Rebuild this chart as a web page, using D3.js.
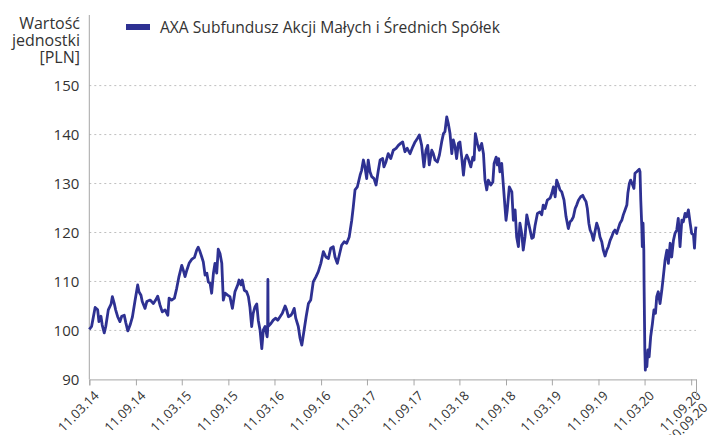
<!DOCTYPE html>
<html>
  <head>
    <meta charset="utf-8">
    <title>AXA Subfundusz Akcji Małych i Średnich Spółek</title>
    <script src="https://d3js.org/d3.v7.min.js"></script>
    <style>
      body { margin: 0; background: #fff; }
      svg { font-family: "Open Sans", "Noto Sans", sans-serif; fill: #333; }
      .gridLine { stroke: #bfbfbf; stroke-width: 1; stroke-dasharray: 2 3; }
      .axisLine { stroke: #a6a6a6; stroke-width: 1; }
    </style>
  </head>
  <body>
    <svg id="chart" width="710" height="435"></svg>
    <script>
      // data: days after 11.03.2014 and unit value (PLN)
      startDate = "2014-03-11";
      endDate = "2020-09-30";
      dayOffsets = [
        0, 9, 23, 33, 38, 46, 51, 59, 65, 75, 86, 91, 99, 104, 112, 121, 128, 138, 144, 152,
        161, 170, 180, 191, 196, 204, 209, 220, 227, 240, 253, 262, 270, 279, 288, 299, 310, 315, 325, 336,
        345, 354, 365, 371, 378, 385, 394, 404, 415, 424, 430, 437, 444, 450, 457, 464, 470, 477, 483, 490,
        496, 503, 509, 516, 523, 529, 536, 546, 555, 565, 575, 586, 591, 599, 604, 612, 621, 628, 634, 641,
        647, 654, 661, 667, 674, 681, 687, 694, 702, 704, 705, 706, 717, 726, 736, 744, 753, 762, 773, 779,
        786, 796, 801, 809, 815, 825, 832, 839, 848, 856, 865, 874, 884, 895, 904, 914, 924, 934, 944, 953,
        963, 970, 979, 987, 996, 1006, 1016, 1026, 1036, 1042, 1049, 1058, 1069, 1075, 1082, 1088, 1095, 1101, 1108, 1115,
        1124, 1132, 1141, 1148, 1158, 1163, 1171, 1180, 1190, 1200, 1211, 1220, 1229, 1237, 1246, 1255, 1266, 1277, 1286, 1295,
        1303, 1312, 1321, 1329, 1336, 1342, 1352, 1358, 1365, 1374, 1382, 1391, 1398, 1404, 1411, 1417, 1424, 1431, 1437, 1444,
        1450, 1457, 1463, 1470, 1477, 1483, 1490, 1496, 1506, 1514, 1519, 1524, 1532, 1540, 1549, 1556, 1562, 1569, 1575, 1585,
        1593, 1598, 1606, 1611, 1616, 1621, 1628, 1634, 1641, 1645, 1650, 1658, 1668, 1674, 1681, 1687, 1694, 1700, 1707, 1713,
        1720, 1727, 1733, 1740, 1747, 1753, 1760, 1769, 1779, 1786, 1792, 1799, 1808, 1819, 1826, 1832, 1839, 1845, 1852, 1858,
        1865, 1874, 1882, 1891, 1898, 1904, 1911, 1918, 1924, 1931, 1940, 1948, 1953, 1961, 1966, 1972, 1977, 1983, 1990, 1996,
        2003, 2010, 2016, 2023, 2029, 2036, 2043, 2049, 2056, 2062, 2069, 2075, 2082, 2088, 2095, 2102, 2108, 2115, 2122, 2126,
        2132, 2137, 2145, 2150, 2154, 2161, 2167, 2171, 2174, 2177, 2181, 2183, 2186, 2189, 2190, 2193, 2195, 2198, 2201, 2205,
        2210, 2216, 2223, 2229, 2235, 2240, 2246, 2253, 2260, 2266, 2273, 2280, 2286, 2293, 2299, 2306, 2312, 2319, 2325, 2332,
        2339, 2345, 2352, 2358, 2365, 2372, 2378, 2385, 2389, 2393, 2395
      ];
      unitValues = [
        100.2, 100.8, 104.7, 104.2, 101.8, 102.9, 101.1, 99.5, 100.8, 104.2, 105.4, 106.9, 105.4, 104.2, 102.8, 101.8, 102.9, 103.1, 101.6, 99.9,
        101.1, 102.7, 105.9, 109.3, 107.9, 107.2, 105.9, 104.5, 105.9, 106.2, 105.5, 106.2, 107.0, 105.2, 103.8, 104.2, 103.1, 106.6, 106.2, 106.6,
        108.6, 111.0, 113.3, 112.3, 111.0, 112.3, 113.7, 114.5, 114.9, 116.4, 117.0, 116.1, 115.0, 114.0, 111.3, 111.7, 109.9, 109.6, 107.6, 111.7,
        113.7, 111.7, 116.6, 115.7, 113.7, 106.2, 107.6, 107.2, 106.9, 104.5, 107.9, 109.3, 110.3, 109.3, 110.3, 108.2, 107.9, 106.9, 104.8, 100.8,
        103.5, 104.8, 105.4, 102.1, 100.1, 96.3, 100.1, 100.8, 98.7, 100.0, 110.4, 100.8, 101.4, 102.1, 102.5, 102.1, 102.8, 103.5, 105.0, 104.2,
        102.8, 103.1, 103.5, 104.5, 102.5, 100.8, 98.4, 97.0, 100.1, 102.8, 105.5, 106.2, 109.9, 111.0, 112.0, 113.7, 116.1, 115.0, 114.7, 116.8,
        117.1, 115.0, 113.7, 115.4, 117.4, 118.1, 117.8, 119.1, 122.5, 125.2, 128.7, 129.3, 131.7, 132.7, 134.8, 133.4, 131.0, 134.8, 132.4, 131.4,
        131.0, 129.7, 132.7, 134.8, 135.1, 133.4, 134.4, 136.1, 135.1, 136.8, 137.2, 137.8, 138.2, 138.5, 136.5, 137.2, 136.1, 137.5, 138.5, 139.2,
        139.9, 137.8, 133.4, 136.8, 137.8, 133.8, 136.8, 136.1, 134.8, 134.4, 135.8, 138.5, 140.2, 140.6, 143.6, 142.3, 140.2, 136.1, 138.9, 137.5,
        135.1, 138.2, 138.5, 135.4, 131.7, 134.8, 135.8, 135.1, 133.4, 135.4, 134.8, 140.2, 138.2, 136.8, 138.2, 136.1, 130.7, 128.7, 130.7, 129.7,
        130.3, 134.1, 135.4, 133.8, 135.1, 132.4, 134.1, 130.0, 125.2, 122.5, 124.6, 129.3, 128.3, 122.5, 124.6, 119.1, 117.1, 121.9, 119.8, 116.4,
        119.1, 123.6, 122.2, 120.5, 118.8, 119.0, 121.5, 123.9, 124.2, 123.6, 125.6, 124.9, 126.6, 127.0, 128.0, 129.3, 127.3, 130.7, 129.7, 128.7,
        128.3, 126.6, 123.2, 120.8, 122.2, 122.5, 123.2, 124.9, 125.6, 126.6, 127.3, 127.6, 127.0, 126.3, 124.9, 121.9, 120.5, 119.8, 118.4, 120.1,
        121.9, 120.8, 119.1, 118.1, 116.4, 115.2, 116.4, 117.1, 118.4, 119.1, 120.1, 120.5, 119.8, 120.8, 121.9, 122.5, 123.6, 124.6, 125.6, 128.0,
        130.0, 130.7, 129.7, 129.0, 132.1, 132.4, 132.7, 132.9, 132.4, 126.6, 121.2, 117.1, 121.9, 116.4, 109.6, 96.0, 91.9, 94.6, 92.6, 96.0,
        94.6, 98.7, 101.4, 104.2, 103.5, 106.9, 107.9, 105.5, 108.2, 111.0, 114.4, 116.4, 113.7, 117.8, 115.0, 118.4, 119.8, 120.5, 122.9, 117.1,
        122.5, 122.2, 123.9, 123.2, 124.6, 121.9, 119.8, 119.5, 116.8, 120.5, 121.2
      ];
      tickDates = [
        "2014-03-11", "2014-09-11", "2015-03-11", "2015-09-11", "2016-03-11", "2016-09-11", "2017-03-11",
        "2017-09-11", "2018-03-11", "2018-09-11", "2019-03-11", "2019-09-11", "2020-03-11", "2020-09-11", "2020-09-30"
      ];
      yTicks = [90, 100, 110, 120, 130, 140, 150];
      seriesName = "AXA Subfundusz Akcji Małych i Średnich Spółek";
      yTitle = ["Wartość", "jednostki", "[PLN]"];

      parseDate = d3.timeParse("%Y-%m-%d");
      start = parseDate(startDate);
      series = dayOffsets.map(function(d, i) {
        return { date: d3.timeDay.offset(start, d), value: unitValues[i] };
      });

      margin = { top: 15, left: 89.3, right: 14, bottom: 55.6 };
      width = 710;
      height = 435;
      svg = d3.select("#chart");

      x = d3.scaleTime()
        .domain([start, parseDate(endDate)])
        .range([margin.left, width - margin.right]);
      y = d3.scaleLinear()
        .domain([90, 150])
        .range([height - margin.bottom, 85.6]);

      // gridlines
      svg.append("g")
        .selectAll("line")
        .data(yTicks.slice(1))
        .join("line")
          .attr("class", "gridLine")
          .attr("x1", margin.left)
          .attr("x2", width - margin.right)
          .attr("y1", function(d) { return y(d); })
          .attr("y2", function(d) { return y(d); });

      // y axis
      svg.append("line")
        .attr("class", "axisLine")
        .attr("x1", margin.left).attr("x2", margin.left)
        .attr("y1", margin.top).attr("y2", y(90));
      yAxis = svg.append("g")
        .attr("transform", "translate(" + margin.left + ",0)")
        .call(d3.axisLeft(y).tickValues(yTicks).tickSize(0).tickPadding(10));
      yAxis.select(".domain").remove();
      yAxis.selectAll("text")
        .attr("font-size", 15)
        .attr("font-family", "'Open Sans', sans-serif")
        .attr("fill", "#333");

      // y title, one line per tspan
      yTitleText = svg.append("text")
        .attr("text-anchor", "end")
        .attr("font-size", 16)
        .attr("fill", "#333");
      yTitleText.selectAll("tspan")
        .data(yTitle)
        .join("tspan")
          .attr("x", 80)
          .attr("y", function(d, i) { return 29 + i * 17.2; })
          .text(function(d) { return d; });

      // x axis
      lastTick = tickDates[tickDates.length - 1];
      xAxis = svg.append("g")
        .attr("transform", "translate(0," + y(90) + ")")
        .call(d3.axisBottom(x)
          .tickValues(tickDates.map(parseDate))
          .tickSizeOuter(0)
          .tickSize(6)
          .tickFormat(d3.timeFormat("%d.%m.%y")));
      xAxis.select(".domain").attr("stroke", "#a6a6a6");
      xAxis.selectAll(".tick line")
        .attr("stroke", "#a6a6a6")
        .attr("y2", function(d) { return d3.timeFormat("%Y-%m-%d")(d) == lastTick ? 17 : 6; });
      xAxis.selectAll(".tick text")
        .attr("font-size", 13)
        .attr("font-family", "'Open Sans', sans-serif")
        .attr("fill", "#333")
        .attr("y", 0)
        .attr("dy", 0)
        .attr("text-anchor", "end")
        .attr("transform", function(d) {
          last = d3.timeFormat("%Y-%m-%d")(d) == lastTick;
          return "translate(" + (last ? 12 : 10) + "," + (last ? 29 : 17) + ") rotate(-45)";
        });

      // series line
      line = d3.line()
        .x(function(d) { return x(d.date); })
        .y(function(d) { return y(d.value); });
      svg.append("path")
        .datum(series)
        .attr("fill", "none")
        .attr("stroke", "#2e3192")
        .attr("stroke-width", 2.8)
        .attr("stroke-linejoin", "round")
        .attr("d", line);

      // legend
      svg.append("rect")
        .attr("x", 126).attr("y", 24)
        .attr("width", 24).attr("height", 6)
        .attr("fill", "#2e3192");
      svg.append("text")
        .attr("x", 160).attr("y", 33)
        .attr("font-size", 15.6)
        .attr("fill", "#333")
        .text(seriesName);
    </script>
  </body>
</html>
